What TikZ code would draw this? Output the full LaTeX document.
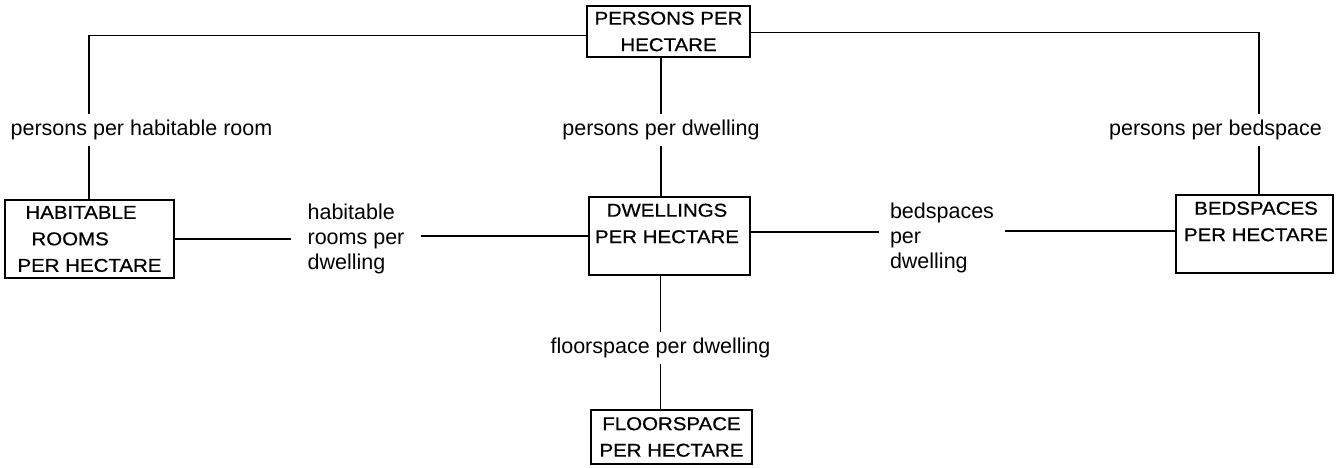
\documentclass[tikz,border=0pt]{standalone}
\usepackage{fontspec}
\setmainfont{Liberation Sans}
\newfontfamily\boxfnt[FakeStretch=1.1,FakeBold=0.6]{Liberation Sans}
\begin{document}
\begin{tikzpicture}[x=1pt,y=-1pt,
  box/.style={draw, line width=2.3pt, inner sep=0pt, align=center},
  boxtxt/.style={inner sep=0pt, align=center, font=\boxfnt\fontsize{18.6}{26.5}\selectfont},
  lbl/.style={inner xsep=2pt, inner ysep=6pt, align=left, font=\fontsize{21.5}{25}\selectfont},
  conn/.style={line width=1.9pt}]
\useasboundingbox (0,0) rectangle (1337,467);
% boxes
\node[box, boxtxt, minimum width=163pt, minimum height=51pt] (P) at (668.5,31.5) {PERSONS PER\\HECTARE};
\node[box, boxtxt, align=left, minimum width=169pt, minimum height=78pt] (H) at (89.5,239) {\hspace*{8pt}HABITABLE\\\hspace*{14pt}ROOMS\\PER HECTARE};
\node[box, minimum width=161pt, minimum height=78pt] (D) at (669.5,236) {};
\node[boxtxt] (Dt) at (667,223.5) {DWELLINGS\\PER HECTARE};
\node[box, minimum width=157pt, minimum height=78pt] (B) at (1254.5,234) {};
\node[boxtxt] (Bt) at (1256,221.5) {BEDSPACES\\PER HECTARE};
\node[box, boxtxt, minimum width=161pt, minimum height=54pt] (F) at (671.5,437) {FLOORSPACE\\PER HECTARE};
% labels
\node[lbl] (lHR) at (141.5,130) {persons per habitable room};
\node[lbl] (lPD) at (661,130) {persons per dwelling};
\node[lbl] (lPB) at (1215.5,130) {persons per bedspace};
\node[lbl] (lFD) at (660.5,348) {floorspace per dwelling};
\node[lbl, inner xsep=16pt] (lHD) at (356,239) {habitable\\rooms per\\dwelling};
\node[lbl, inner xsep=11pt] (lBD) at (942,238) {bedspaces\\per\\dwelling};
\coordinate (hx) at (89,0);
\coordinate (bx) at (1259,0);
% connectors
\draw[conn] ([yshift=-4pt]P.west) -| (hx |- lHR.north);
\draw[conn] (hx |- lHR.south) -- (hx |- H.north);
\draw[conn] ([yshift=-1pt]P.east) -| (bx |- lPB.north);
\draw[conn] (bx |- lPB.south) -- (bx |- B.north);
\draw[conn] (P.south -| lPD) -- (lPD.north);
\draw[conn] (lPD.south) -- (D.north -| lPD);
\draw[conn] (D.south -| lFD) -- (lFD.north);
\draw[conn] (lFD.south) -- (F.north -| lFD);
\draw[conn] (H.east) -- (H.east -| lHD.west);
\draw[conn] (lHD.east |- D.west) -- (D.west);
\draw[conn] ([yshift=4pt]D.east) coordinate (d1) -- (d1 -| lBD.west);
\draw[conn] ([yshift=3pt]B.west) coordinate (b1) -- (b1 -| lBD.east);
\end{tikzpicture}
\end{document}
